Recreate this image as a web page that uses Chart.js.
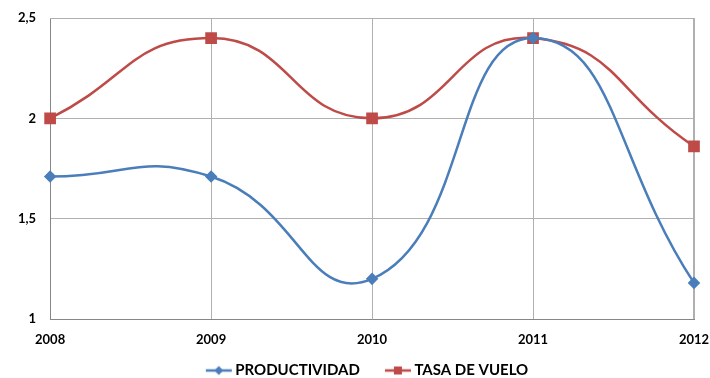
<!DOCTYPE html>
<html lang="es">
<head>
    <meta charset="UTF-8">
    <title>Productividad y tasa de vuelo</title>
    <script src="https://cdn.jsdelivr.net/npm/chart.js"></script>
    <style>
        html, body {
            margin: 0;
            padding: 0;
            background: white;
        }
        .chart-box {
            position: relative;
            width: 710px;
            height: 378px;
        }
    </style>
</head>
<body>
    <div class="chart-box">
        <canvas id="lineChart"></canvas>
    </div>

    <script>
        // Datos del gráfico
        const years = ['2008', '2009', '2010', '2011', '2012'];
        const productividad = [1.71, 1.71, 1.2, 2.4, 1.18];
        const tasaVuelo = [2.0, 2.4, 2.0, 2.4, 1.86];
        const yTicks = [1, 1.5, 2, 2.5];

        const BLUE = '#4a7ebb';
        const RED = '#be4b48';
        const FONT = 'Lato, "Open Sans", sans-serif';
        const LEGEND_H = 30;

        // marcador de leyenda: trozo de línea con el punto encima
        // (más ancho que la caja para acercar la línea al texto)
        function legendMarker(color, shape) {
            const c = document.createElement('canvas');
            c.width = 44;
            c.height = 12;
            const g = c.getContext('2d');
            g.strokeStyle = color;
            g.lineWidth = 2.5;
            g.beginPath();
            g.moveTo(16, 6);
            g.lineTo(42, 6);
            g.stroke();
            g.fillStyle = color;
            const cx = 29;
            if (shape === 'diamond') {
                g.beginPath();
                g.moveTo(cx, 1.5);
                g.lineTo(cx + 4.5, 6);
                g.lineTo(cx, 10.5);
                g.lineTo(cx - 4.5, 6);
                g.closePath();
                g.fill();
            } else {
                g.fillRect(cx - 4, 2, 8, 8);
            }
            return c;
        }
        const markers = [legendMarker(BLUE, 'diamond'), legendMarker(RED, 'square')];

        const ctx = document.getElementById('lineChart').getContext('2d');
        new Chart(ctx, {
            type: 'line',
            data: {
                labels: years,
                datasets: [{
                    label: 'PRODUCTIVIDAD',
                    data: productividad,
                    borderColor: BLUE,
                    backgroundColor: BLUE,
                    borderWidth: 2.5,
                    tension: 0.5,
                    pointStyle: 'rectRot',
                    pointRadius: 4.5,
                    pointHoverRadius: 4.5
                }, {
                    label: 'TASA DE VUELO',
                    data: tasaVuelo,
                    borderColor: RED,
                    backgroundColor: RED,
                    borderWidth: 2.5,
                    tension: 0.5,
                    pointStyle: 'rect',
                    pointRadius: 6.5,
                    pointHoverRadius: 6.5
                }]
            },
            options: {
                responsive: true,
                maintainAspectRatio: false,
                animation: false,
                layout: {
                    padding: { top: 0, right: 0, left: 14, bottom: 0 }
                },
                scales: {
                    x: {
                        offset: false,
                        grid: { color: '#b0b0b0', lineWidth: 1, drawTicks: false },
                        border: { color: '#868686', width: 1 },
                        ticks: {
                            color: '#000',
                            padding: 13,
                            maxRotation: 0,
                            font: { family: FONT, size: 13, weight: 'bold' }
                        },
                        afterFit: axis => {
                            axis.height = 29;
                            axis.paddingRight = 16;
                        }
                    },
                    y: {
                        min: 1,
                        max: 2.5,
                        afterBuildTicks: axis => {
                            axis.ticks = yTicks.map(v => ({ value: v }));
                        },
                        grid: { color: '#b0b0b0', lineWidth: 1, drawTicks: false },
                        border: { color: '#868686', width: 1 },
                        ticks: {
                            color: '#000',
                            padding: 14,
                            font: { family: FONT, size: 13, weight: 'bold' },
                            callback: v => String(v).replace('.', ',')
                        },
                        afterFit: axis => {
                            axis.width -= 10;
                            axis.paddingTop = 18;
                        }
                    }
                },
                plugins: {
                    tooltip: { enabled: false },
                    legend: {
                        position: 'bottom',
                        labels: {
                            usePointStyle: true,
                            pointStyleWidth: 32,
                            padding: 15,
                            color: '#000',
                            font: { family: FONT, size: 15, weight: 'bold' },
                            generateLabels: chart => {
                                const items = Chart.defaults.plugins.legend.labels.generateLabels(chart);
                                items.forEach((it, i) => { it.pointStyle = markers[i]; });
                                return items;
                            }
                        }
                    }
                }
            },
            plugins: [{
                // altura fija para la leyenda inferior
                id: 'legendHeight',
                beforeLayout(chart) {
                    const lg = chart.legend;
                    if (lg && !lg._fixedH) {
                        const fit = lg.fit;
                        lg.fit = function () {
                            fit.call(this);
                            this.height = LEGEND_H;
                        };
                        lg._fixedH = true;
                    }
                }
            }, {
                // borde superior y derecho del área de trazado
                id: 'plotFrame',
                beforeDatasetsDraw(chart) {
                    const a = chart.chartArea;
                    const g = chart.ctx;
                    g.save();
                    g.strokeStyle = '#b0b0b0';
                    g.lineWidth = 1;
                    g.beginPath();
                    g.moveTo(a.left, a.top + 0.5);
                    g.lineTo(a.right - 0.5, a.top + 0.5);
                    g.lineTo(a.right - 0.5, a.bottom);
                    g.stroke();
                    g.restore();
                }
            }]
        });
    </script>
</body>
</html>
